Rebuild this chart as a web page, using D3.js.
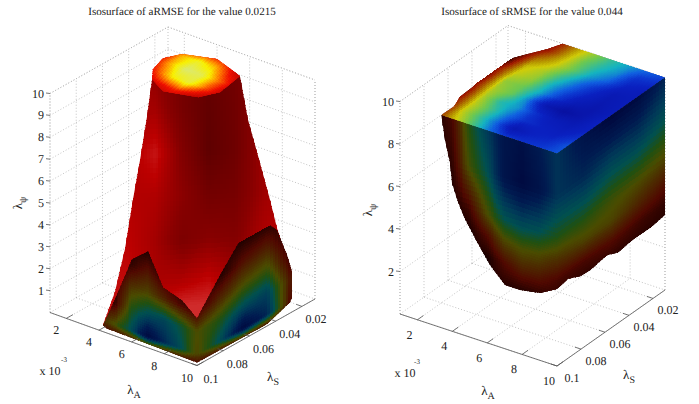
<!DOCTYPE html>
<html>
<head>
<meta charset="utf-8">
<script src="https://cdn.jsdelivr.net/npm/d3@7"></script>
<style>
    html, body { margin: 0; padding: 0; background: #fff; }
    svg { display: block; }
    text { font-family: "Liberation Serif", serif; fill: #222; text-rendering: geometricPrecision; }
</style>
</head>
<body>
<svg id="chart" width="699" height="404"></svg>
<script>
// axis ticks
var ticksA = [2, 4, 6, 8, 10];
var ticksS = [0.02, 0.04, 0.06, 0.08, 0.1];
var ticksZLeft = [1, 2, 3, 4, 5, 6, 7, 8, 9, 10];
var ticksZRight = [2, 4, 6, 8, 10];

// left plot: top cap (z = 10), heat values
var capEdgeA = [3.24, 2.88, 3.32, 4.95, 6.94, 7.26, 6.78, 5.07, 3.87];
var capEdgeS = [0.0493, 0.0372, 0.0282, 0.0219, 0.0291, 0.0483, 0.059, 0.0645, 0.0579];
var capGridA = [2.5, 3.5, 4.5, 5.5, 6.5, 7.5];
var capGridS = [0.02, 0.03, 0.04, 0.05, 0.06, 0.07];
var capValues = [
    [0, 0.1, 0.2, 0.2, 0, 0],
    [0, 0.6, 0.8, 0.6, 0.2, 0],
    [0.1, 0.55, 0.97, 0.9, 0.45, 0.1],
    [0, 0.33, 0.72, 0.85, 0.4, 0.05],
    [0, 0.05, 0.2, 0.3, 0.1, 0],
    [0, 0, 0, 0, 0, 0]
];

// left plot: red body, on the sheet between the left and right box corners
var bodyEdgeT = [0.385, 0.366, 0.34, 0.313, 0.283, 0.245, 0.2, 0.558, 0.925, 0.906, 0.857, 0.83, 0.792, 0.747, 0.717, 0.55];
var bodyEdgeZ = [10.39, 8.71, 6.76, 4.95, 2.73, 0.79, -0.69, -1.59, 0.39, 1.45, 3.31, 4.64, 6.36, 8.35, 10.33, 10.4];
var bodyGridT = [0.2, 0.3, 0.4, 0.5, 0.6, 0.7, 0.8, 0.9];
var bodyGridZ = [10.5, 9, 7, 5, 3, 1, 0, -2];
var bodyValues = [
    [0.6, 0.6, 0.45, 0.25, 0.12, 0.22, 0.45, 0.6],
    [0.6, 0.6, 0.55, 0.25, 0.08, 0.2, 0.45, 0.6],
    [0.7, 0.62, 0.8, 0.35, 0.05, 0.18, 0.5, 0.6],
    [0.72, 0.65, 0.62, 0.42, 0.22, 0.25, 0.5, 0.65],
    [0.72, 0.7, 0.55, 0.3, 0.4, 0.35, 0.6, 0.7],
    [0.75, 0.75, 0.6, 0.65, 0.75, 0.6, 0.65, 0.7],
    [0.75, 0.75, 0.7, 0.9, 0.9, 0.6, 0.65, 0.7],
    [0.75, 0.75, 0.7, 0.9, 0.9, 0.6, 0.65, 0.7]
];

// left plot: cut face at S = 0.1
var leftFaceEdgeA = [4.25, 4.98, 6.02, 7, 7.92, 9.08, 10, 10, 4.49];
var leftFaceEdgeZ = [0.28, 1.66, 3.77, 4.4, 3, 2.72, 2.15, 0.14, 0.21];
var leftFaceGridA = [4, 5, 6, 7, 8, 9, 10];
var leftFaceGridZ = [4.5, 3.5, 2.5, 1.5, 0.5, 0];
var leftFaceValues = [
    [0, 0, 0, 0, 0, 0, 0],
    [0, 0, 0.05, 0.15, 0.03, 0, 0],
    [0, 0.02, 0.25, 0.3, 0.2, 0.1, 0.05],
    [0, 0.05, 0.42, 0.55, 0.58, 0.48, 0.33],
    [0.2, 0.35, 0.55, 0.9, 0.7, 0.55, 0.3],
    [0.08, 0.08, 0.08, 0.08, 0.08, 0.08, 0.08]
];

// left plot: cut face at A = 10
var leftSideEdgeS = [0.1, 0.0825, 0.0688, 0.0596, 0.0497, 0.039, 0.0313, 0.0267, 0.0253, 0.0291, 0.0466, 0.1];
var leftSideEdgeZ = [2.15, 3.52, 4.48, 4.95, 4.94, 4.12, 2.72, 1.66, 0.83, 0.5, 0.09, 0.14];
var leftSideGridS = [0.1, 0.082, 0.064, 0.046, 0.028];
var leftSideGridZ = [4.5, 3.5, 2.5, 1.5, 0.5, 0];
var leftSideValues = [
    [0, 0, 0.02, 0.04, 0],
    [0, 0.02, 0.15, 0.2, 0],
    [0.05, 0.2, 0.33, 0.38, 0.05],
    [0.33, 0.42, 0.55, 0.6, 0.15],
    [0.3, 0.55, 0.9, 0.7, 0.1],
    [0.1, 0.1, 0.1, 0.1, 0.05]
];

// right plot: top face (z = 10)
var topEdgeA = [3.37, 10, 10, 4.14, 3.84, 3.34, 2.87, 2.83, 2.87, 3.03, 3.07, 3.39];
var topEdgeS = [0.1, 0.1, 0.01, 0.01, 0.0188, 0.0281, 0.0371, 0.0491, 0.0605, 0.0687, 0.0801, 0.0897];
var topGridA = [3, 4, 5, 6, 7, 8, 9, 10];
var topGridS = [0.1, 0.091, 0.082, 0.073, 0.064, 0.055, 0.046, 0.037, 0.028, 0.019, 0.01];
var topValues = [
    [0.12, 0.28, 0.43, 0.57, 0.66, 0.68, 0.66, 0.62],
    [0.06, 0.33, 0.47, 0.6, 0.8, 0.72, 0.7, 0.62],
    [0.08, 0.33, 0.46, 0.58, 0.68, 0.72, 0.74, 0.68],
    [0.07, 0.35, 0.5, 0.55, 0.68, 0.76, 0.78, 0.72],
    [0.1, 0.36, 0.43, 0.58, 0.8, 0.88, 0.82, 0.72],
    [0.08, 0.38, 0.42, 0.53, 0.66, 0.78, 0.82, 0.76],
    [0.1, 0.33, 0.38, 0.52, 0.62, 0.72, 0.8, 0.76],
    [0.03, 0.3, 0.36, 0.48, 0.58, 0.68, 0.78, 0.76],
    [0, 0.22, 0.31, 0.42, 0.53, 0.6, 0.72, 0.76],
    [0, 0.12, 0.28, 0.42, 0.5, 0.56, 0.68, 0.7],
    [0, 0.1, 0.26, 0.38, 0.48, 0.54, 0.6, 0.64]
];

// right plot: cut face at S = 0.1
var frontEdgeA = [3.37, 3.58, 3.87, 3.98, 4.33, 4.73, 5.42, 6.16, 7.02, 7.88, 9.03, 10, 10];
var frontEdgeZ = [10, 8.89, 7.89, 6.97, 6.17, 5.48, 4.59, 3.71, 3, 3, 3.17, 3.62, 10];
var frontGridA = [3, 4, 5, 6, 7, 8, 9, 10];
var frontGridZ = [10, 8, 6, 5, 4, 3];
var frontValues = [
    [0, 0.1, 0.42, 0.62, 0.8, 0.85, 0.75, 0.65],
    [0, 0.05, 0.35, 0.52, 0.8, 0.9, 0.82, 0.65],
    [0, 0, 0.08, 0.32, 0.5, 0.55, 0.52, 0.42],
    [0, 0, 0, 0.12, 0.3, 0.35, 0.33, 0.25],
    [0, 0, 0, 0, 0.12, 0.2, 0.18, 0.1],
    [0, 0, 0, 0, 0.03, 0.03, 0.03, 0.03]
];

// right plot: cut face at A = 10
var sideEdgeS = [0.1, 0.0908, 0.0808, 0.0725, 0.0583, 0.0492, 0.0366, 0.0225, 0.01, 0.01, 0.1];
var sideEdgeZ = [3.62, 3.73, 3.46, 3.41, 3.55, 3.32, 3.43, 3.42, 3.53, 10, 10];
var sideGridS = [0.1, 0.0775, 0.055, 0.0325, 0.01];
var sideGridZ = [10, 8, 6, 5, 4, 3];
var sideValues = [
    [0.65, 0.82, 0.95, 0.9, 0.72],
    [0.65, 0.7, 0.62, 0.62, 0.52],
    [0.42, 0.42, 0.36, 0.33, 0.28],
    [0.25, 0.3, 0.3, 0.22, 0.15],
    [0.1, 0.1, 0.12, 0.08, 0.05],
    [0.02, 0.02, 0.02, 0.02, 0.02]
];

// colour scales
var jet = d3.scaleLinear()
    .domain([0, 0.12, 0.2, 0.27, 0.32, 0.42, 0.52, 0.6, 0.66, 0.72, 0.88, 1])
    .range(['#300000', '#a01800', '#a85800', '#b89a00', '#d0cc08', '#6cc850', '#14b4c0', '#1060e0', '#0c38d0', '#0a20c0', '#0810a0', '#081070'])
    .clamp(true);
var jetShaded = d3.scaleLinear()
    .domain([0, 0.12, 0.25, 0.33, 0.42, 0.52, 0.62, 0.75, 0.9, 1])
    .range(['#180000', '#500800', '#4c3000', '#4a4c00', '#205010', '#005050', '#003a58', '#001a50', '#000a40', '#000830'])
    .clamp(true);
var heat = d3.scaleLinear()
    .domain([0, 0.25, 0.5, 0.72, 1])
    .range(['#a80000', '#f01000', '#ff8a00', '#f8f000', '#d8e880'])
    .clamp(true);
var redShade = d3.scaleLinear()
    .domain([0, 0.4, 0.7, 1])
    .range(['#580000', '#880000', '#bc0000', '#d84040'])
    .clamp(true);

var svg = d3.select('#chart');
var clipId = 0;

function makeBox(left, front, right, height) {
    var xA = d3.scaleLinear().domain([1, 10]).range([left[0], front[0]]);
    var yA = d3.scaleLinear().domain([1, 10]).range([left[1], front[1]]);
    var xS = d3.scaleLinear().domain([0.1, 0.01]).range([0, right[0] - front[0]]);
    var yS = d3.scaleLinear().domain([0.1, 0.01]).range([0, right[1] - front[1]]);
    var yZ = d3.scaleLinear().domain([0, 10]).range([0, -height]);
    return function (a, s, z) {
        return [xA(a) + xS(s), yA(a) + yS(s) + yZ(z)];
    };
}

// draws a colour field on a flat patch: grid of values, clipped by the outline
function drawField(g, toPoint, gridU, gridW, values, color, outline) {
    var sub = 9;
    var uAt = d3.scaleLinear().domain(d3.range(gridU.length)).range(gridU);
    var wAt = d3.scaleLinear().domain(d3.range(gridW.length)).range(gridW);
    var cells = [];
    d3.range((gridU.length - 1) * sub).forEach(function (i) {
        d3.range((gridW.length - 1) * sub).forEach(function (j) {
            var i0 = i / sub, i1 = (i + 1) / sub, j0 = j / sub, j1 = (j + 1) / sub;
            var ci = Math.floor(i / sub), cj = Math.floor(j / sub);
            var fu = (i + 0.5) / sub - ci, fw = (j + 0.5) / sub - cj;
            var v = d3.interpolate(
                d3.interpolate(values[cj][ci], values[cj][ci + 1])(fu),
                d3.interpolate(values[cj + 1][ci], values[cj + 1][ci + 1])(fu)
            )(fw);
            cells.push({
                pts: [
                    toPoint(uAt(i0), wAt(j0)), toPoint(uAt(i1), wAt(j0)),
                    toPoint(uAt(i1), wAt(j1)), toPoint(uAt(i0), wAt(j1))
                ],
                fill: color(v)
            });
        });
    });

    var id = 'clip' + (clipId++);
    g.append('clipPath').attr('id', id)
        .append('polygon')
        .attr('points', outline.join(' '));

    g.append('g')
        .attr('clip-path', 'url(#' + id + ')')
        .attr('shape-rendering', 'crispEdges')
        .selectAll('polygon')
        .data(cells)
        .enter()
        .append('polygon')
        .attr('points', function (d) { return d.pts.join(' '); })
        .attr('fill', function (d) { return d.fill; })
        .attr('stroke', function (d) { return d.fill; })
        .attr('stroke-width', 1);
}

function zipEdge(us, ws, toPoint) {
    return us.map(function (u, i) { return toPoint(u, ws[i]); });
}

function drawBox(g, project, ticksZ) {
    var grid = g.append('g')
        .attr('fill', 'none')
        .attr('stroke', '#aaa')
        .attr('stroke-width', 0.7)
        .attr('stroke-dasharray', '1,2');

    function seg(parent, p, q) {
        parent.append('line')
            .attr('x1', p[0]).attr('y1', p[1])
            .attr('x2', q[0]).attr('y2', q[1]);
    }

    ticksZ.forEach(function (z) {
        seg(grid, project(1, 0.1, z), project(1, 0.01, z));
        seg(grid, project(1, 0.01, z), project(10, 0.01, z));
    });
    ticksS.forEach(function (s) {
        seg(grid, project(1, s, 0), project(1, s, 10));
        seg(grid, project(1, s, 0), project(10, s, 0));
    });
    ticksA.forEach(function (a) {
        seg(grid, project(a, 0.01, 0), project(a, 0.01, 10));
        seg(grid, project(a, 0.1, 0), project(a, 0.01, 0));
    });
    seg(grid, project(1, 0.1, 0), project(1, 0.1, 10));
    seg(grid, project(1, 0.01, 0), project(1, 0.01, 10));
    seg(grid, project(10, 0.01, 0), project(10, 0.01, 10));
    seg(grid, project(1, 0.1, 10), project(1, 0.01, 10));
    seg(grid, project(1, 0.01, 10), project(10, 0.01, 10));
    seg(grid, project(1, 0.1, 0), project(1, 0.01, 0));
    seg(grid, project(1, 0.01, 0), project(10, 0.01, 0));
}

function drawAxes(g, project, ticksZ) {
    var axes = g.append('g')
        .attr('fill', 'none')
        .attr('stroke', '#555')
        .attr('stroke-width', 0.8);

    function seg(p, q) {
        axes.append('line')
            .attr('x1', p[0]).attr('y1', p[1])
            .attr('x2', q[0]).attr('y2', q[1]);
    }

    seg(project(1, 0.1, 0), project(10, 0.1, 0));
    seg(project(10, 0.1, 0), project(10, 0.01, 0));
    ticksA.forEach(function (a) { seg(project(a, 0.1, 0), project(a, 0.095, 0)); });
    ticksS.forEach(function (s) { seg(project(10, s, 0), project(9.65, s, 0)); });
    ticksZ.forEach(function (z) {
        var p = project(1, 0.1, z);
        seg(p, [p[0] - 4, p[1] - 0.5]);
    });
}

function addText(g, x, y, str, size, anchor) {
    return g.append('text')
        .attr('x', x).attr('y', y)
        .attr('font-size', size)
        .attr('text-anchor', anchor || 'middle')
        .text(str);
}

function addLambda(g, x, y, sub, rotate) {
    var t = g.append('text')
        .attr('transform', 'translate(' + x + ',' + y + ')' + (rotate ? ' rotate(-90)' : ''))
        .attr('font-size', 13)
        .attr('text-anchor', 'middle');
    t.append('tspan').text('λ');
    t.append('tspan').attr('dy', 4).attr('font-size', 10).text(sub);
}

// left plot
var leftBox = makeBox([50, 312.5], [197, 365.5], [315, 299], 219);
var leftG = svg.append('g');
drawBox(leftG, leftBox, ticksZLeft);

var onSheet = function (t, z) { return leftBox(1 + 9 * t, 0.1 - 0.09 * t, z); };
drawField(leftG, onSheet, bodyGridT, bodyGridZ, bodyValues, redShade, zipEdge(bodyEdgeT, bodyEdgeZ, onSheet));

var onCap = function (a, s) { return leftBox(a, s, 10); };
drawField(leftG, onCap, capGridA, capGridS, capValues, heat, zipEdge(capEdgeA, capEdgeS, onCap));

var leftFront = function (a, z) { return leftBox(a, 0.1, z); };
drawField(leftG, leftFront, leftFaceGridA, leftFaceGridZ, leftFaceValues, jetShaded, zipEdge(leftFaceEdgeA, leftFaceEdgeZ, leftFront));

var leftSide = function (s, z) { return leftBox(10, s, z); };
drawField(leftG, leftSide, leftSideGridS, leftSideGridZ, leftSideValues, jetShaded, zipEdge(leftSideEdgeS, leftSideEdgeZ, leftSide));

drawAxes(leftG, leftBox, ticksZLeft);

// right plot
var rightBox = makeBox([400, 314], [557, 366], [665, 290], 212.5);
var rightG = svg.append('g');
drawBox(rightG, rightBox, ticksZRight);

var onTop = function (a, s) { return rightBox(a, s, 10); };
drawField(rightG, onTop, topGridA, topGridS, topValues, jet, zipEdge(topEdgeA, topEdgeS, onTop));

var rightFront = function (a, z) { return rightBox(a, 0.1, z); };
drawField(rightG, rightFront, frontGridA, frontGridZ, frontValues, jetShaded, zipEdge(frontEdgeA, frontEdgeZ, rightFront));

var rightSide = function (s, z) { return rightBox(10, s, z); };
drawField(rightG, rightSide, sideGridS, sideGridZ, sideValues, jetShaded, zipEdge(sideEdgeS, sideEdgeZ, rightSide));

drawAxes(rightG, rightBox, ticksZRight);

// tick labels and titles
function tickLabels(g, project, ticksZ, shiftA, shiftS) {
    ticksA.forEach(function (a) {
        var p = project(a, 0.1, 0);
        addText(g, p[0] + shiftA[0], p[1] + shiftA[1], a, 12);
    });
    ticksS.forEach(function (s) {
        var p = project(10, s, 0);
        addText(g, p[0] + shiftS[0], p[1] + shiftS[1], s, 12);
    });
    ticksZ.forEach(function (z) {
        var p = project(1, 0.1, z);
        addText(g, p[0] - 6, p[1] + 4, z, 12, 'end');
    });
}

tickLabels(leftG, leftBox, ticksZLeft, [-10, 16], [14, 17]);
tickLabels(rightG, rightBox, ticksZRight, [-8, 19], [15, 16]);

addText(leftG, 182, 15, 'Isosurface of aRMSE for the value 0.0215', 11.1);
addText(rightG, 532, 15, 'Isosurface of sRMSE for the value 0.044', 11.1);

addText(leftG, 50, 375, 'x 10', 12);
addText(leftG, 64, 362, '-3', 7);
addText(rightG, 405, 377, 'x 10', 12);
addText(rightG, 417, 364, '-3', 7);

addLambda(leftG, 134, 394, 'A');
addLambda(leftG, 273, 381, 'S');
addLambda(leftG, 22, 203, 'ψ', true);
addLambda(rightG, 488, 395, 'A');
addLambda(rightG, 629, 379, 'S');
addLambda(rightG, 372, 210, 'ψ', true);
</script>
</body>
</html>
